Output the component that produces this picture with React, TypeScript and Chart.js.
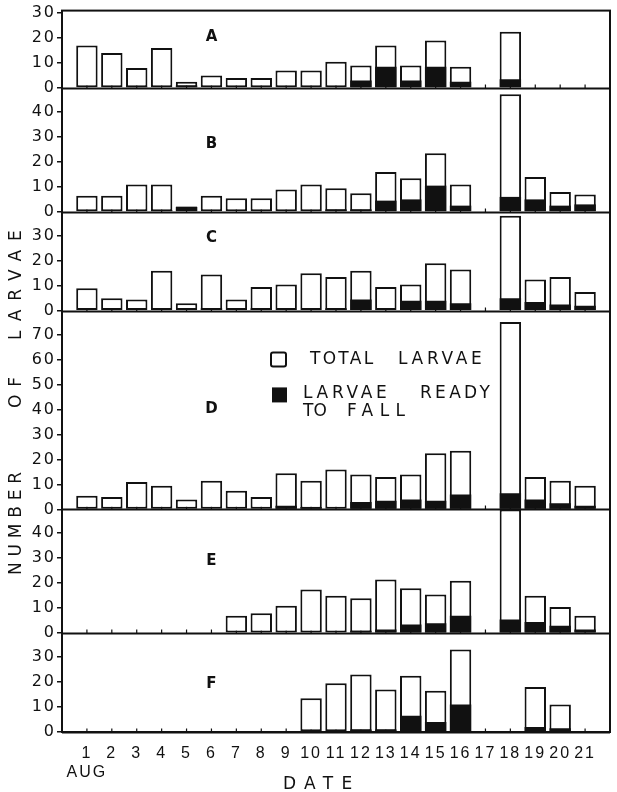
import React, { useEffect, useRef } from 'react';
import { Chart, registerables } from 'chart.js';

Chart.register(...registerables);

// ---------- data ----------
const dates = ['1', '2', '3', '4', '5', '6', '7', '8', '9', '10', '11', '12', '13', '14', '15', '16', '17', '18', '19', '20', '21'];
const monthName = 'AUG';
const xTitle = 'DATE';
const yTitleWords = ['NUMBER', 'OF', 'LARVAE'];
const legendTotalWords = ['TOTAL', 'LARVAE'];
const legendReadyLine1 = ['LARVAE', 'READY'];
const legendReadyLine2 = ['TO', 'FALL'];

const panelNames = ['A', 'B', 'C', 'D', 'E', 'F'];
const panelMax = [31, 49.5, 39.5, 79.5, 49.5, 39.5];
const panelLetterValue = [20.5, 27, 29, 40, 29, 19];
const panelLetterDate = 6;

const totalA = [17, 14, 8, 16, 2.5, 5, 4, 4, 7, 7, 10.5, 9, 17, 9, 19, 8.5, null, 22.5, null, null, null];
const readyA = [0, 0, 0.5, 0, 1, 0, 0, 0, 0, 0, 0, 3, 8.5, 3, 8.5, 2.5, null, 3.5, null, null, null];
const totalB = [6.5, 6.5, 11, 11, 2.2, 6.5, 5.5, 5.5, 9, 11, 9.5, 7.5, 16, 13.5, 23.5, 11, null, 47, 14, 8, 7];
const readyB = [0, 0, 0, 0.7, 2, 0, 0, 0, 0, 0, 1, 1, 4.5, 5, 10.5, 2.5, null, 6, 5, 2.5, 3];
const totalC = [9, 5, 4.5, 16, 3, 14.5, 4.5, 9.5, 10.5, 15, 13.5, 16, 9.5, 10.5, 19, 16.5, null, 38, 12.5, 13.5, 7.5];
const readyC = [0, 0, 0, 0, 0, 1, 0, 1, 0, 0, 1, 4.5, 0, 4, 4, 3, null, 5, 3.5, 2.5, 2];
const totalD = [5.5, 5, 11, 9.5, 4, 11.5, 7.5, 5, 14.5, 11.5, 16, 14, 13, 14, 22.5, 23.5, null, 75, 13, 11.5, 9.5];
const readyD = [0, 0, 0, 0, 0, 0, 0, 0, 1.5, 1, 0, 3, 3.5, 4, 3.5, 6, null, 6.5, 4, 2.5, 1.5];
const totalE = [null, null, null, null, null, null, 7, 8, 11, 17.5, 15, 14, 21.5, 18, 15.5, 21, null, 49.5, 15, 10.5, 7];
const readyE = [null, null, null, null, null, null, 0, 0, 0, 0, 0, 1, 1.5, 3.5, 4, 7, null, 5.5, 4.5, 3, 1.5];
const totalF = [null, null, null, null, null, null, null, null, null, 13.5, 19.5, 23, 17, 22.5, 16.5, 33, null, null, 18, 11, null];
const readyF = [null, null, null, null, null, null, null, null, null, 0, 0, 1, 1, 6.5, 4, 11, null, null, 2, 1.5, null];

const totals = [totalA, totalB, totalC, totalD, totalE, totalF];
const readies = [readyA, readyB, readyC, readyD, readyE, readyF];

// ---------- styles ----------
const INK = '#111111';
const FONT = "'DejaVu Sans', 'Liberation Sans', sans-serif";
const XFONT = "'Liberation Sans', 'DejaVu Sans', sans-serif";

const xLabels = ['', ...dates, ''];
const pad = (arr: (number | null)[]) => [null, ...arr, null];

function spacedText(ctx: any, text: string, x: number, y: number, width: number) {
  ctx.letterSpacing = '0px';
  const w0 = ctx.measureText(text).width;
  const n = text.length;
  const sp = n > 1 ? Math.max(0, (width - w0) / (n - 1)) : 0;
  ctx.letterSpacing = sp.toFixed(1) + 'px';
  ctx.textAlign = 'left';
  ctx.fillText(text, x, y);
  ctx.letterSpacing = '0px';
}

const decorPlugin = {
  id: 'decor',
  beforeUpdate(chart: any) {
    chart.ctx.letterSpacing = '2px';
  },
  beforeDraw(chart: any) {
    chart.ctx.letterSpacing = '2px';
  },
  beforeDatasetsDraw(chart: any) {
    const { ctx, chartArea, scales } = chart;
    ctx.save();
    ctx.strokeStyle = INK;
    panelNames.forEach((p) => {
      const ys = scales['y' + p];
      const y0 = Math.round(ys.getPixelForValue(0)) + 0.5;
      ctx.lineWidth = 2;
      ctx.beginPath();
      ctx.moveTo(chartArea.left, y0);
      ctx.lineTo(chartArea.right, y0);
      ctx.stroke();
      ctx.lineWidth = 1.2;
      ctx.beginPath();
      dates.forEach((_, i) => {
        const x = scales.x.getPixelForValue(i + 1);
        ctx.moveTo(x, y0);
        ctx.lineTo(x, y0 - 4);
      });
      ctx.stroke();
    });
    ctx.restore();
  },
  afterDatasetsDraw(chart: any) {
    const { ctx, chartArea } = chart;
    ctx.save();
    ctx.strokeStyle = INK;
    ctx.lineWidth = 2;
    ctx.strokeRect(chartArea.left, chartArea.top, chartArea.right - chartArea.left, chartArea.bottom - chartArea.top);
    ctx.restore();
  },
  afterDraw(chart: any) {
    const { ctx, chartArea, scales } = chart;
    const L = chartArea.left;
    ctx.save();
    ctx.fillStyle = INK;
    ctx.textBaseline = 'middle';

    // panel letters
    ctx.font = `bold 15px ${FONT}`;
    panelNames.forEach((p, i) => {
      const x = scales.x.getPixelForValue(panelLetterDate);
      const y = scales['y' + p].getPixelForValue(panelLetterValue[i]);
      ctx.letterSpacing = '0px';
      ctx.textAlign = 'center';
      ctx.fillText(p, x, y);
    });

    // legend
    ctx.font = `17px ${FONT}`;
    ctx.strokeStyle = INK;
    ctx.lineWidth = 2;
    const yD = scales.yD;
    const ly1 = yD.getPixelForValue(60);
    ctx.beginPath();
    ctx.roundRect(L + 209, ly1 - 7, 15, 14, 2);
    ctx.stroke();
    spacedText(ctx, legendTotalWords[0], L + 248, ly1, 63);
    spacedText(ctx, legendTotalWords[1], L + 336, ly1, 84);
    const ly2 = ly1 + 34;
    ctx.fillRect(L + 210, ly2 - 6, 15, 15);
    spacedText(ctx, legendReadyLine1[0], L + 241, ly2, 84);
    spacedText(ctx, legendReadyLine1[1], L + 358, ly2, 70);
    const ly3 = ly2 + 18;
    spacedText(ctx, legendReadyLine2[0], L + 241, ly3, 24);
    spacedText(ctx, legendReadyLine2[1], L + 285, ly3, 58);

    // x title
    ctx.font = `17px ${FONT}`;
    spacedText(ctx, xTitle, 283, 785, 69);

    // y title (rotated)
    ctx.save();
    ctx.translate(17, 0);
    ctx.rotate(-Math.PI / 2);
    ctx.font = `17px ${FONT}`;
    spacedText(ctx, yTitleWords[0], -575, 0, 103);
    spacedText(ctx, yTitleWords[1], -408, 0, 31);
    spacedText(ctx, yTitleWords[2], -340, 0, 110);
    ctx.restore();

    ctx.restore();
  },
};

export default function App() {
  const canvasRef = useRef<HTMLCanvasElement | null>(null);

  useEffect(() => {
    const canvas = canvasRef.current;
    if (!canvas) return;

    const datasets: any[] = [];
    panelNames.forEach((p, i) => {
      datasets.push({
        label: 'Larvae ready to fall ' + p,
        data: pad(readies[i]),
        xAxisID: 'x',
        yAxisID: 'y' + p,
        backgroundColor: INK,
        borderWidth: 0,
        grouped: false,
        barPercentage: 0.86,
        categoryPercentage: 1,
        order: 0,
      });
      datasets.push({
        label: 'Total larvae ' + p,
        data: pad(totals[i]),
        xAxisID: 'x',
        yAxisID: 'y' + p,
        backgroundColor: '#ffffff',
        borderColor: INK,
        borderWidth: 2,
        borderSkipped: false,
        grouped: false,
        barPercentage: 0.86,
        categoryPercentage: 1,
        order: 1,
      });
    });

    const scales: any = {
      x: {
        type: 'category',
        labels: xLabels,
        offset: false,
        grid: { display: false },
        border: { display: false },
        ticks: {
          autoSkip: false,
          maxRotation: 0,
          minRotation: 0,
          padding: 4,
          color: INK,
          font: { family: XFONT, size: 16 },
          callback: (_v: any, i: number) => (i === 1 ? [xLabels[i], monthName] : xLabels[i]),
        },
        afterFit: (s: any) => {
          s.height = 60;
        },
      },
    };

    [...panelNames].reverse().forEach((p) => {
      const i = panelNames.indexOf(p);
      scales['y' + p] = {
        type: 'linear',
        position: 'left',
        stack: 'panels',
        stackWeight: panelMax[i],
        min: 0,
        max: panelMax[i],
        grid: {
          display: true,
          drawOnChartArea: false,
          drawTicks: true,
          tickLength: 5,
          color: INK,
          tickColor: INK,
          lineWidth: 1.5,
        },
        border: { display: false },
        ticks: {
          stepSize: 10,
          includeBounds: false,
          autoSkip: false,
          padding: 1,
          color: INK,
          font: { family: FONT, size: 16 },
        },
        afterFit: (s: any) => {
          s.width = 62;
        },
      };
    });

    const chart = new Chart(canvas, {
      type: 'bar',
      data: { labels: xLabels, datasets },
      options: {
        responsive: false,
        animation: false,
        devicePixelRatio: 1,
        layout: { padding: { top: 8, right: 7, bottom: 0, left: 0 } },
        plugins: {
          legend: { display: false },
          tooltip: { enabled: false },
          title: { display: false },
        },
        scales,
      } as any,
      plugins: [decorPlugin as any],
    });

    return () => {
      chart.destroy();
    };
  }, []);

  return (
    <div style={{ position: 'absolute', left: 0, top: 0, width: 617, height: 792, background: '#fff' }}>
      <canvas ref={canvasRef} width={617} height={792} style={{ display: 'block' }} />
    </div>
  );
}
